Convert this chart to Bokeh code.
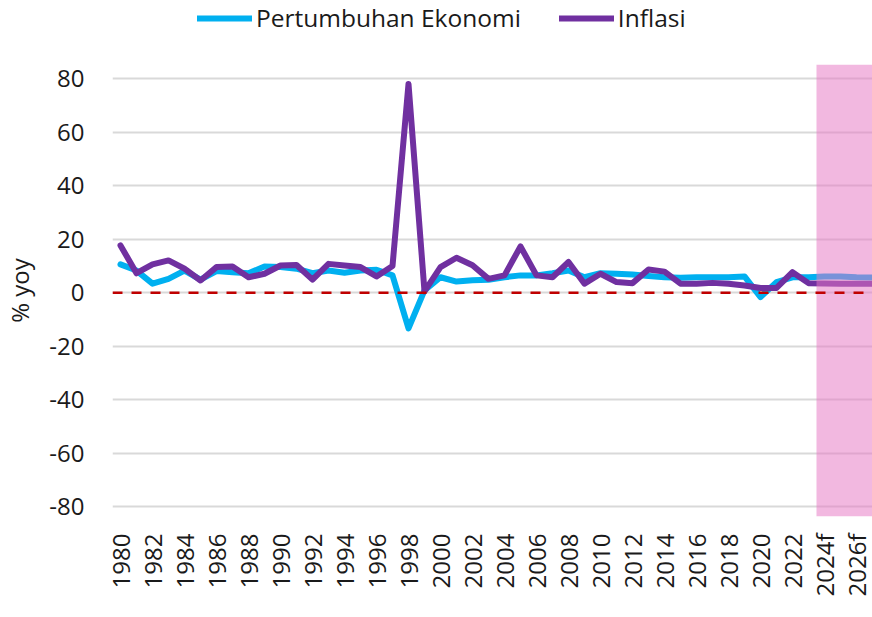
from math import pi
from bokeh.plotting import figure
from bokeh.layouts import column
from bokeh.models import Range1d, FixedTicker, BoxAnnotation, Span, Legend, LegendItem
from bokeh.embed import file_html
from bokeh.resources import INLINE

years = [str(y) for y in range(1980, 2024)] + ["2024f", "2025f", "2026f", "2027f"]

growth = [10.6, 8.3, 3.4, 5.2, 8.3, 4.9, 8.1, 7.7, 7.3, 9.8,
          9.6, 9.0, 7.3, 8.3, 7.5, 8.3, 8.6, 6.5, -13.3, 0.9,
          5.8, 4.2, 4.7, 4.9, 5.8, 6.5, 6.5, 7.3, 8.3, 5.8,
          7.3, 7.1, 6.8, 6.3, 5.8, 5.6, 5.8, 5.8, 5.8, 6.1,
          -1.6, 4.0, 5.8, 5.8, 6.1, 6.1, 5.8, 5.7]

inflation = [17.7, 7.3, 10.6, 12.1, 9.0, 4.6, 9.6, 9.8, 5.8, 7.1,
             10.2, 10.4, 4.9, 10.8, 10.2, 9.6, 6.1, 10.0, 78.0, 0.5,
             9.6, 13.1, 10.3, 5.2, 6.5, 17.3, 6.5, 5.8, 11.5, 3.4,
             7.1, 4.0, 3.6, 8.7, 7.9, 3.4, 3.4, 3.7, 3.4, 2.7,
             1.8, 1.8, 7.7, 3.6, 3.5, 3.4, 3.4, 3.4]

y_ticks = [-80, -60, -40, -20, 0, 20, 40, 60, 80]
series_names = ["Pertumbuhan Ekonomi", "Inflasi"]
series_colors = ["#00b0f0", "#7030a0"]
forecast_from = "2024f"

FONT = "Open Sans"
x = list(range(len(years)))

# ---------------- main chart ----------------
p = figure(width=872, height=561, output_backend="svg", toolbar_location=None,
           x_range=Range1d(-0.5, len(years) - 1), y_range=Range1d(-83.6, 85.3),
           min_border_left=112, min_border_right=0, min_border_top=8,
           min_border_bottom=101)
p.title.visible = False
p.outline_line_color = None
p.background_fill_color = "white"
p.border_fill_color = "white"

p.xgrid.visible = False
p.ygrid.grid_line_color = "#d9d9d9"
p.ygrid.grid_line_width = 2

tick_idx = x[::2]
p.xaxis.ticker = FixedTicker(ticks=tick_idx)
p.xaxis.major_label_overrides = {i: years[i] for i in tick_idx}
p.xaxis.major_label_orientation = pi / 2
p.xaxis.axis_line_color = None
p.xaxis.major_tick_line_color = None
p.xaxis.minor_tick_line_color = None
p.xaxis.major_label_standoff = 11
p.xaxis.major_label_text_font = FONT
p.xaxis.major_label_text_font_size = "24px"
p.xaxis.major_label_text_color = "#1a1a1a"

p.yaxis.ticker = FixedTicker(ticks=y_ticks)
p.yaxis.major_label_overrides = {v: str(v) for v in y_ticks}
p.yaxis.axis_line_color = None
p.yaxis.major_tick_line_color = None
p.yaxis.minor_tick_line_color = None
p.yaxis.major_label_standoff = 22
p.yaxis.major_label_text_font = FONT
p.yaxis.major_label_text_font_size = "24px"
p.yaxis.major_label_text_color = "#1a1a1a"
p.yaxis.axis_label = "% yoy"
p.yaxis.axis_label_text_font = FONT
p.yaxis.axis_label_text_font_size = "24px"
p.yaxis.axis_label_text_font_style = "normal"
p.yaxis.axis_label_text_color = "#1a1a1a"
p.yaxis.axis_label_standoff = 10

series = [growth, inflation]
for vals, col in zip(series, series_colors):
    p.line(x, vals, line_color=col, line_width=6,
           line_join="round", line_cap="round")

band = BoxAnnotation(left=years.index(forecast_from) - 0.5,
                     fill_color=(231, 118, 195), fill_alpha=0.52,
                     line_color=None)
p.add_layout(band)

zero = Span(location=0, dimension="width", line_color="#c00000",
            line_width=2.5, line_dash="10 9", level="overlay")
p.add_layout(zero)

# ---------------- legend strip ----------------
# (same series, but this strip's ranges keep the lines out of view;
#  only the legend entries are shown)
lg = figure(width=872, height=56, output_backend="svg", toolbar_location=None,
            x_range=Range1d(1000, 1001), y_range=Range1d(1000, 1001),
            min_border_left=112, min_border_right=0, min_border_top=0,
            min_border_bottom=0)
lg.title.visible = False
lg.axis.visible = False
lg.grid.visible = False
lg.outline_line_color = None
lg.background_fill_color = "white"
lg.border_fill_color = "white"
items = []
for name, vals, col in zip(series_names, series, series_colors):
    r = lg.line(x, vals, line_color=col, line_width=6, line_cap="round")
    items.append(LegendItem(label=name, renderers=[r]))
legend = Legend(items=items, orientation="horizontal", location=(85, 22),
                border_line_color=None, background_fill_alpha=0,
                glyph_width=55, glyph_height=28, label_height=28,
                label_standoff=4, spacing=38, padding=0, margin=0,
                label_text_font=FONT, label_text_font_size="24.5px",
                label_text_color="#1a1a1a")
lg.add_layout(legend, "center")

layout = column(lg, p, spacing=0)
open("out.html", "w").write(file_html(layout, INLINE))
